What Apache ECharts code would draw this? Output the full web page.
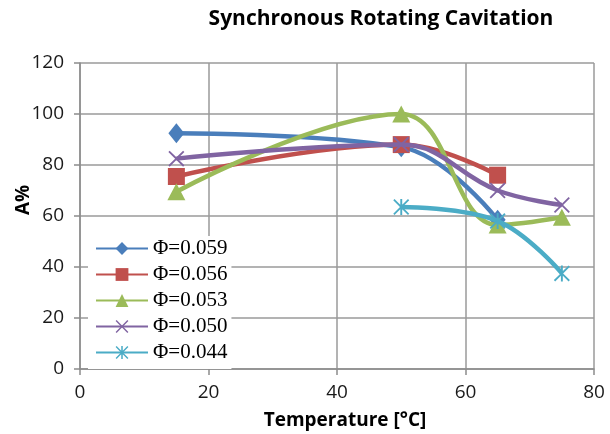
<!DOCTYPE html>
<html>
<head>
<meta charset="utf-8">
<script src="https://cdn.jsdelivr.net/npm/echarts@6/dist/echarts.min.js"></script>
<style>html,body{margin:0;padding:0;background:#fff}#c{width:610px;height:434px}</style>
</head>
<body>
<div id="c"></div>
<script>
// Data
const temps = [15, 50, 65, 75];
const seriesNames = ['Φ=0.059', 'Φ=0.056', 'Φ=0.053', 'Φ=0.050', 'Φ=0.044'];
const phi059 = [92.5, 87, 58.5, null];
const phi056 = [75.5, 88, 76, null];
const phi053 = [69.5, 100, 56.5, 59.5];
const phi050 = [82.5, 88, 70, 64.3];
const phi044 = [null, 63.5, 58, 37.5];
const xTicks = [0, 20, 40, 60, 80];
const yTicks = [0, 20, 40, 60, 80, 100, 120];

const colors = ['#4A7EBB', '#C0504D', '#9BBB59', '#8064A2', '#4BACC6'];
const xPath = 'path://M0,0.8L0.8,0L5,4.2L9.2,0L10,0.8L5.8,5L10,9.2L9.2,10L5,5.8L0.8,10L0,9.2L4.2,5Z';
const starPath = 'path://M4.4,0L5.6,0L5.6,10L4.4,10Z M0,0.8L0.8,0L5,4.2L9.2,0L10,0.8L5.8,5L10,9.2L9.2,10L5,5.8L0.8,10L0,9.2L4.2,5Z';
const symbols = ['diamond', 'rect', 'triangle', xPath, starPath];
const symbolSizes = [[16, 20], [17, 17], [18, 17], [16, 16], [16, 16]];
const allValues = [phi059, phi056, phi053, phi050, phi044];

function pairs(vals) {
  const out = [];
  vals.forEach((v, i) => { if (v !== null) out.push([temps[i], v]); });
  return out;
}

const chart = echarts.init(document.getElementById('c'), null, {renderer: 'canvas'});
const labelFont = {fontFamily: 'Open Sans', fontSize: 19, color: '#1a1a1a'};
chart.setOption({
  animation: false,
  backgroundColor: '#fff',
  title: {
    text: 'Synchronous Rotating Cavitation',
    left: 376, top: 4, textAlign: 'center',
    textStyle: {fontFamily: 'Open Sans', fontWeight: 'bold', fontSize: 21, color: '#000'}
  },
  grid: {left: 80, right: 16, top: 63, bottom: 65, containLabel: false},
  legend: {
    orient: 'vertical',
    left: 88, top: 236,
    padding: [2, 4, 6, 7],
    backgroundColor: '#fff',
    itemWidth: 52, itemHeight: 16, itemGap: 5,
    data: seriesNames,
    textStyle: {fontFamily: 'Liberation Serif', fontSize: 21, color: '#000', lineHeight: 21}
  },
  xAxis: {
    type: 'value', min: 0, max: 80, interval: 20,
    axisLine: {show: true, lineStyle: {color: '#8c8c8c', width: 1.5}},
    axisTick: {show: true, length: 6, lineStyle: {color: '#8c8c8c', width: 1.5}},
    axisLabel: Object.assign({margin: 14, formatter: v => xTicks.includes(v) ? String(v) : ''}, labelFont),
    splitLine: {show: true, lineStyle: {color: '#9a9a9a', width: 1.5}}
  },
  yAxis: {
    type: 'value', min: 0, max: 120, interval: 20,
    axisLine: {show: true, lineStyle: {color: '#8c8c8c', width: 1.5}},
    axisTick: {show: true, length: 6, lineStyle: {color: '#8c8c8c', width: 1.5}},
    axisLabel: Object.assign({margin: 16, formatter: v => yTicks.includes(v) ? String(v) : ''}, labelFont),
    splitLine: {show: true, lineStyle: {color: '#9a9a9a', width: 1.5}}
  },
  graphic: [
    {type: 'text', x: 345, y: 421, style: {text: 'Temperature [°C]', fontFamily: 'Open Sans', fontWeight: 'bold', fontSize: 19, fill: '#000', align: 'center', verticalAlign: 'middle'}},
    {type: 'text', x: 24, y: 200, rotation: Math.PI / 2, style: {text: 'A%', fontFamily: 'Open Sans', fontWeight: 'bold', fontSize: 19, fill: '#000', align: 'center', verticalAlign: 'middle'}}
  ],
  series: allValues.map((vals, i) => ({
    name: seriesNames[i],
    type: 'line',
    smooth: 0.4,
    data: pairs(vals),
    symbol: symbols[i],
    symbolSize: symbolSizes[i],
    showAllSymbol: true,
    lineStyle: {color: colors[i], width: 4.5},
    itemStyle: {color: colors[i]},
    emphasis: {disabled: true},
    z: 2 + i
  }))
});
</script>
</body>
</html>
